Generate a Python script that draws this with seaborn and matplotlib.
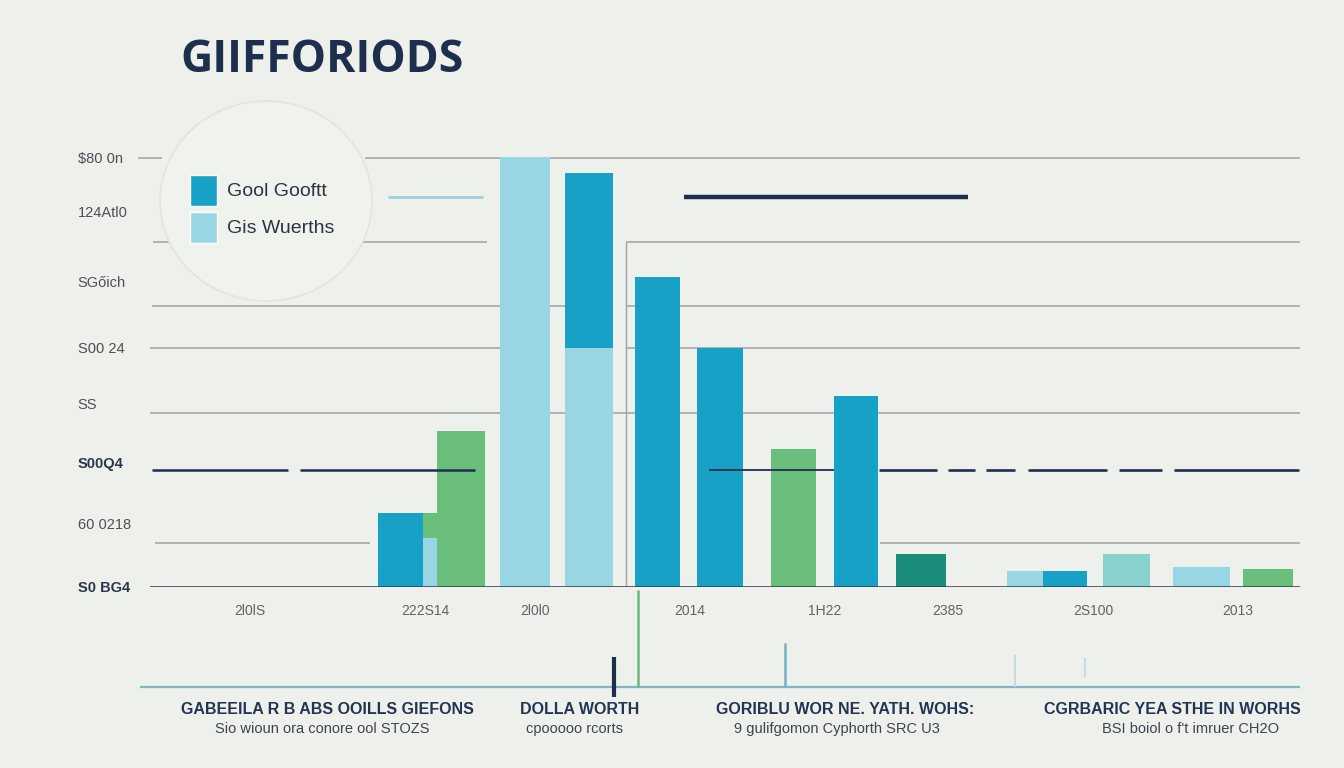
import numpy as np
import pandas as pd
import matplotlib
matplotlib.use("Agg")
import matplotlib.pyplot as plt
from matplotlib.patches import Patch, Ellipse
import seaborn as sns

# ---------------- data ----------------
bar_ids = ["b01", "b02", "b03", "b04", "b05", "b06", "b07", "b08",
           "b09", "b10", "b11", "b12", "b13", "b14", "b15"]
periods = [25.05, 28.0, 31.1, 37.5, 43.9, 50.75, 57.0, 64.35,
           70.6, 77.1, 87.5, 91.5, 97.65, 105.15, 111.8]
totals = [17.2, 17.2, 36.4, 100.2, 96.5, 72.3, 55.7, 32.2,
          44.5, 7.7, 3.7, 3.7, 7.7, 4.7, 4.2]
series = ["Gool Gooftt", "Green", "Green", "Gis Wuerths", "Gool Gooftt",
          "Gool Gooftt", "Gool Gooftt", "Green", "Gool Gooftt", "Teal",
          "Gis Wuerths", "Gool Gooftt", "Light teal", "Gis Wuerths", "Green"]
# lower stacked segments (light blue) inside some bars
lower_ids = ["b02", "b05"]
lower_periods = [28.0, 43.9]
lower_values = [11.4, 55.7]

ytick_values = [100, 87.4, 71.3, 55.7, 42.7, 28.9, 14.9, 0]
ytick_labels = ["$80 0n", "124Atl0", "SGőich", "S00 24", "SS", "S00Q4", "60 0218", "S0 BG4"]
xtick_values = [10, 27.5, 38.5, 54, 67.5, 79.8, 94.3, 108.8]
xtick_labels = ["2l0lS", "222S14", "2l0l0", "2014", "1H22", "2385", "2S100", "2013"]

title = "GIIFFORIODS"
legend_labels = ["Gool Gooftt", "Gis Wuerths"]
captions = ["GABEEILA R B ABS OOILLS GIEFONS", "DOLLA WORTH",
            "GORIBLU WOR NE. YATH. WOHS:", "CGRBARIC YEA STHE IN WORHS"]
subcaptions = ["Sio wioun ora conore ool STOZS", "cpooooo rcorts",
               "9 gulifgomon Cyphorth SRC U3", "BSI boiol o f't imruer CH2O"]

# ---------------- styles ----------------
BG = "#eef0ec"
NAVY = "#1e2f4d"
GRID = "#9ea3a6"
colors = {"Gool Gooftt": "#17a1c7", "Gis Wuerths": "#98d6e3",
          "Green": "#6abf7c", "Teal": "#1b8d7b", "Light teal": "#88d2cd"}
bar_widths = [4.5, 1.4, 4.8, 5.0, 4.8, 4.5, 4.6, 4.5, 4.4, 5.0, 3.6, 4.4, 4.7, 5.7, 5.0]
lower_widths = [1.4, 4.8]

sns.set_theme(style="white")
plt.rcParams["font.family"] = ["Liberation Sans", "DejaVu Sans"]

fig = plt.figure(figsize=(13.44, 7.68), dpi=100, facecolor=BG)
W, H = 1344, 768
px = lambda x0, y0, x1, y1: [x0 / W, 1 - y1 / H, (x1 - x0) / W, (y1 - y0) / H]
ax = fig.add_axes(px(150, 130, 1300, 587))
ax.set_facecolor("none")

# ---- legend circle (behind everything) ----
circ = Ellipse((266 / W, 1 - 201 / H), 212 / W, 200 / H, transform=fig.transFigure,
               facecolor="#f0f2ee", edgecolor="#e3e5e1", lw=1.3, zorder=0)
fig.patches.append(circ)

# ---- gridlines (partial segments) ----
grid_segments = [
    (100, 21.5, 115), (80.4, 0.3, 2.5), (80.4, 20.7, 33.7), (80.4, 47.6, 115),
    (65.5, 0.2, 46.3), (65.5, 47.6, 115), (55.7, 0, 40), (55.7, 47.6, 115),
    (40.6, 0, 115), (10.3, 0.5, 22), (10.3, 73, 115),
]
for yv, a, b in grid_segments:
    ax.hlines(yv, a, b, color=GRID, lw=1.1, zorder=0)
ax.hlines(100, -1.2, 1.2, color=GRID, lw=1.1, zorder=0, clip_on=False)
ax.vlines(47.6, 0, 80.4, color=GRID, lw=1.0, zorder=0)

# ---- bars ----
df = pd.DataFrame({"bar": bar_ids, "period": periods, "value": totals, "series": series})
palette = {b: colors[s] for b, s in zip(bar_ids, series)}
sns.barplot(data=df, x="period", y="value", hue="bar", hue_order=bar_ids,
            palette=palette, native_scale=True, dodge=False, legend=False,
            saturation=1, ax=ax, zorder=2)
for p, w in zip(ax.patches, bar_widths):
    c = p.get_x() + p.get_width() / 2
    p.set_x(c - w / 2)
    p.set_width(w)
    p.set_linewidth(0)
n1 = len(ax.patches)
dl = pd.DataFrame({"bar": lower_ids, "period": lower_periods, "value": lower_values})
sns.barplot(data=dl, x="period", y="value", hue="bar", hue_order=lower_ids,
            palette={b: colors["Gis Wuerths"] for b in lower_ids}, native_scale=True,
            dodge=False, legend=False, saturation=1, ax=ax, zorder=3)
for p, w in zip(ax.patches[n1:], lower_widths):
    c = p.get_x() + p.get_width() / 2
    p.set_x(c - w / 2)
    p.set_width(w)
    p.set_linewidth(0)
    p.set_zorder(3)

# ---- dark lines ----
dark_segments = [(0.2, 13.8, 1.8), (15.0, 32.5, 1.8), (55.9, 68.4, 1.3), (72.9, 78.7, 1.9),
                 (79.8, 82.5, 1.9), (83.6, 86.5, 1.9), (87.8, 95.7, 1.9), (96.9, 101.2, 1.9),
                 (102.4, 114.9, 1.9)]
for a, b, lw in dark_segments:
    ax.hlines(27.3, a, b, color=NAVY, lw=lw, zorder=4)
ax.hlines(90.9, 53.4, 81.8, color=NAVY, lw=3.2, zorder=4)
ax.hlines(90.9, 23.8, 33.3, color="#9fd0dc", lw=2.0, zorder=4)
ax.hlines(0, -0.2, 115, color="#2b3a4f", lw=1.8, zorder=5)

ax.set_xlim(0, 115)
ax.set_ylim(0, 106.5)
for s in ax.spines.values():
    s.set_visible(False)
ax.set_xlabel("")
ax.set_ylabel("")
ax.set_yticks(ytick_values)
ax.set_yticklabels(ytick_labels)
ax.set_xticks(xtick_values)
ax.set_xticklabels(xtick_labels)
ax.tick_params(axis="y", length=0, pad=52, labelsize=10.5, labelcolor="#4b5058")
ax.tick_params(axis="x", length=0, pad=12, labelsize=10, labelcolor="#5f646a")
for t in ax.get_yticklabels():
    t.set_ha("left")
for i in (5, 7):
    ax.get_yticklabels()[i].set_fontweight("bold")
    ax.get_yticklabels()[i].set_color("#2a3550")

# ---- bottom strip ----
ax2 = fig.add_axes(px(150, 590, 1300, 700))
ax2.set_xlim(0, 115)
ax2.set_ylim(700, 590)
ax2.axis("off")
ax2.hlines(687, -1, 115, color="#7fb7c9", lw=1.6, clip_on=False)
strip_lines = [(46.4, 657, 697, NAVY, 3.0), (48.8, 590, 687, "#6aba78", 1.8),
               (63.5, 643, 687, "#6fb2c6", 1.8), (86.5, 655, 687, "#c3dbe1", 1.5),
               (93.5, 658, 677, "#c3dbe1", 1.5)]
for xv, a, b, c, lw in strip_lines:
    ax2.vlines(xv, a, b, color=c, lw=lw, clip_on=False)

# ---- title ----
fig.text(180 / W, 1 - 60 / H, title, fontsize=32, fontweight="bold", color=NAVY,
         va="center", ha="left", family=["Open Sans", "DejaVu Sans"])

# ---- legend ----
handles = [Patch(facecolor=colors["Gool Gooftt"]), Patch(facecolor=colors["Gis Wuerths"])]
fig.legend(handles, legend_labels, loc="upper left", bbox_to_anchor=(172 / W, 1 - 157 / H),
           frameon=False, fontsize=14, handlelength=1.42, handleheight=2.1,
           handletextpad=0.5, labelspacing=0.3, labelcolor="#2a3444")

# ---- captions ----
cap_x = [327, 580, 845, 1172]
sub_x = [322, 574, 837, 1190]
for x, t in zip(cap_x, captions):
    fig.text(x / W, 1 - 709 / H, t, fontsize=11.5, fontweight="bold", color="#233553",
             ha="center", va="center")
for x, t in zip(sub_x, subcaptions):
    fig.text(x / W, 1 - 729 / H, t, fontsize=10.5, color="#3c4450", ha="center", va="center")

fig.savefig("out.png", dpi=100, facecolor=BG)
